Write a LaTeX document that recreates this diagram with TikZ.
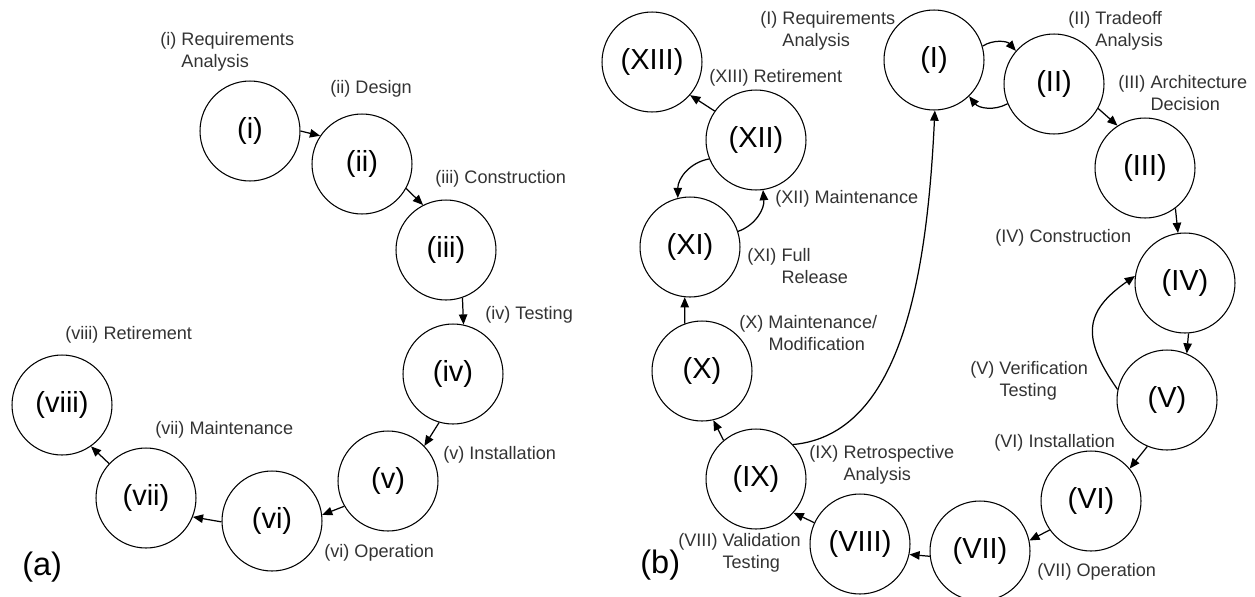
\documentclass[tikz,border=0pt]{standalone}
\usepackage{fontspec}
\setmainfont{Liberation Sans}
\usetikzlibrary{arrows.meta}

\begin{document}
\begin{tikzpicture}[x=0.02cm,y=0.02cm,
  stage/.style={circle, draw, line width=0.6pt, minimum size=2cm, inner sep=0pt,
                font=\fontsize{16.5}{18}\selectfont},
  lbl/.style={inner sep=0pt, anchor=west, align=left, text=black!80,
              font=\fontsize{10.3}{12.6}\selectfont},
  tag/.style={inner sep=0pt, anchor=west, font=\fontsize{18.5}{20}\selectfont},
  flow/.style={line width=0.7pt, -{Triangle[length=5.8pt,width=4.8pt]}},
]
\useasboundingbox (0,0) rectangle (1255,-596);

% ---------------- (a) sequential life cycle ----------------
\node[stage] (a1) at (250,-131) {(i)};
\node[stage] (a2) at (362,-164) {(ii)};
\node[stage] (a3) at (446,-250) {(iii)};
\node[stage] (a4) at (453,-374) {(iv)};
\node[stage] (a5) at (388,-481) {(v)};
\node[stage] (a6) at (272,-521) {(vi)};
\node[stage] (a7) at (146,-498) {(vii)};
\node[stage] (a8) at (62,-405)  {(viii)};

\draw[flow] (a1.0)   -- (a2.146);
\draw[flow] (a2.-29) -- (a3.117);
\draw[flow] (a3.-71) -- (a4.78);
\draw[flow] (a4.-106) -- (a5.44);
\draw[flow] (a5.210) -- (a6.7);
\draw[flow] (a6.181) -- (a7.-22);
\draw[flow] (a7.137) -- (a8.-55);

\node[lbl] (la1) at (160,-51.5) {(i) Requirements\\\phantom{(i)} Analysis};
\node[lbl] (la2) at (330,-89)  {(ii) Design};
\node[lbl] (la3) at (435,-179) {(iii) Construction};
\node[lbl] (la4) at (485,-315) {(iv) Testing};
\node[lbl] (la5) at (443,-455) {(v) Installation};
\node[lbl] (la6) at (324,-553) {(vi) Operation};
\node[lbl] (la7) at (155,-430) {(vii) Maintenance};
\node[lbl] (la8) at (65,-335)  {(viii) Retirement};
\node[tag] (ta) at (22,-567) {(a)};

% ---------------- (b) iterative life cycle ----------------
\node[stage] (b1)  at (934,-60)   {(I)};
\node[stage] (b2)  at (1054,-84)  {(II)};
\node[stage] (b3)  at (1145,-168) {(III)};
\node[stage] (b4)  at (1185,-283) {(IV)};
\node[stage] (b5)  at (1167,-400) {(V)};
\node[stage] (b6)  at (1091,-501) {(VI)};
\node[stage] (b7)  at (980,-551)  {(VII)};
\node[stage] (b8)  at (860,-544)  {(VIII)};
\node[stage] (b9)  at (756,-479)  {(IX)};
\node[stage] (b10) at (702,-371)  {(X)};
\node[stage] (b11) at (690,-247)  {(XI)};
\node[stage] (b12) at (756,-140)  {(XII)};
\node[stage] (b13) at (652,-62)   {(XIII)};

\draw[flow] (b1.16) to[bend left=40] (b2.139);
\draw[flow] (b2.203) to[bend left=40] (b1.-46);
\draw[flow] (b2.-29) -- (b3.123);
\draw[flow] (b3.-53) -- (b4.98);
\draw[flow] (b4.-86) -- (b5.67);
\draw[flow] (b5.168) to[out=125, in=215, looseness=1.4] (b4.172);
\draw[flow] (b5.-113) -- (b6.40);
\draw[flow] (b6.215) -- (b7.12);
\draw[flow] (b7.186) -- (b8.-12);
\draw[flow] (b8.155) -- (b9.-42);
\draw[flow] (b9.130) -- (b10.-77);
\draw[flow] (b9.43) .. controls +(107,10) and +(-8,-170) .. (b1.-89);
\draw[flow] (b10.110) -- (b11.-96);
\draw[flow] (b11.18) to[out=20, in=-85] (b12.-82);
\draw[flow] (b12.202) to[out=190, in=90] (b11.104);
\draw[flow] (b12.145) -- (b13.-41);

\node[lbl] (lb1)  at (760,-31)    {(I) Requirements\\\phantom{(I)} Analysis};
\node[lbl] (lb2)  at (1068,-31)   {(II) Tradeoff\\\phantom{(II)} Analysis};
\node[lbl] (lb3)  at (1118,-94.5) {(III) Architecture\\\phantom{(III)} Decision};
\node[lbl] (lb4)  at (995,-238)   {(IV) Construction};
\node[lbl] (lb5)  at (970,-381)   {(V) Verification\\\phantom{(V)} Testing};
\node[lbl] (lb6)  at (994,-443)   {(VI) Installation};
\node[lbl] (lb7)  at (1037,-572)  {(VII) Operation};
\node[lbl] (lb8)  at (678,-552.5) {(VIII) Validation\\\phantom{(VIII)} Testing};
\node[lbl] (lb9)  at (809,-465)   {(IX) Retrospective\\\phantom{(IX)} Analysis};
\node[lbl] (lb10) at (739,-335)   {(X) Maintenance/\\\phantom{(X)} Modification};
\node[lbl] (lb11) at (747,-267.5) {(XI) Full\\\phantom{(XI)} Release};
\node[lbl] (lb12) at (775,-199)   {(XII) Maintenance};
\node[lbl] (lb13) at (709,-78)    {(XIII) Retirement};
\node[tag] (tb) at (640,-565) {(b)};
\end{tikzpicture}
\end{document}
